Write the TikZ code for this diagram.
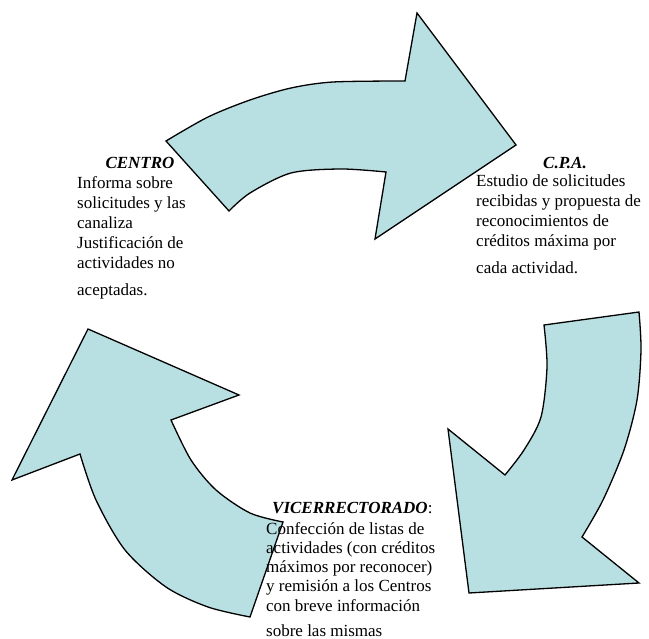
\documentclass[tikz,border=0pt]{standalone}
\usepackage{fontspec}
\setmainfont{Liberation Serif}
\definecolor{flecha}{RGB}{184,223,226}

\begin{document}
\begin{tikzpicture}[x=1pt,y=-1pt,
  flechas/.style={fill=flecha,draw=black,line width=1.3pt,line join=miter},
  titulo/.style={font=\fontsize{17}{20}\selectfont\bfseries\itshape,inner sep=0pt},
  texto/.style={font=\fontsize{17}{20}\selectfont,align=left,inner sep=0pt}]
\fill[white] (0,0) rectangle (649,639);
\useasboundingbox (0,0) rectangle (649,639);

% flecha superior
\draw[flechas] (166,141) -- plot[smooth] coordinates {(166,141) (208,117) (250,100) (291,88) (333,82) (405,81)}
  -- (417,13) -- (516,145) -- (375,239) -- (386,172)
  -- plot[smooth] coordinates {(386,172) (341,169) (291,173) (250,193) (229,211)} -- cycle;

% flecha derecha
\draw[flechas] (544,325) -- (639,312)
  -- plot[smooth] coordinates {(639,312) (641,350) (637,400) (624,450) (603,500) (582,537)}
  -- (639,583) -- (469,593) -- (448,429) -- (505,475)
  -- plot[smooth] coordinates {(505,475) (524,450) (541,417) (547,367) (544,325)} -- cycle;

% flecha izquierda
\draw[flechas] (250,617) -- (283,522)
  -- plot[smooth] coordinates {(283,522) (250,513) (216,490) (191,460) (171,420)}
  -- (239,395) -- (88,329) -- (12,480) -- (80,454)
  -- plot[smooth] coordinates {(80,454) (96,500) (125,550) (166,587) (208,607) (250,617)} -- cycle;

\node[titulo,anchor=base] (centro) at (140,169) {CENTRO};
\node[texto,anchor=base west] (centrotxt) at (77,296) {Informa sobre\\solicitudes y las\\canaliza\\Justificación de\\actividades no\\[7pt]aceptadas.};

\node[titulo,anchor=base] (cpa) at (565,169) {C.P.A.};
\node[texto,anchor=base west] (cpatxt) at (476,274) {Estudio de solicitudes\\recibidas y propuesta de\\reconocimientos de\\créditos máxima por\\[7pt]cada actividad.};

\node[titulo,anchor=base west] (vice) at (272,514) {VICERRECTORADO\textup{\mdseries:}};
\node[texto,font=\fontsize{17}{19.3}\selectfont,anchor=base west] (vicetxt) at (266,636) {Confección de listas de\\actividades (con créditos\\máximos por reconocer)\\y remisión a los Centros\\con breve información\\[5.5pt]sobre las mismas};

\end{tikzpicture}
\end{document}
